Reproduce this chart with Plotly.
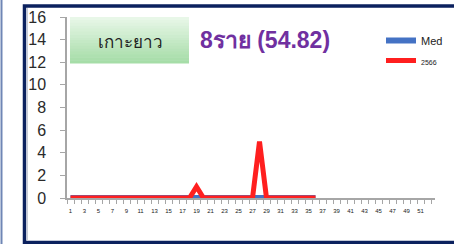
import plotly.graph_objects as go

weeks = list(range(1, 53))
cases_2566 = [0]*18 + [1] + [0]*8 + [5] + [0]*8   # weeks 1..36
med = [0]*36
tick_labels = [str(w) for w in range(1, 53, 2)]
area_name = "เกาะยาว"
summary = "8ราย (54.82)"

W, H = 454, 244
L, R, T, B = 67, 435, 17, 198
def px(x): return (x - L) / (R - L)
def py(y): return (B - y) / (B - T)

fig = go.Figure()
fig.add_trace(go.Scatter(x=weeks[:len(med)], y=med, mode="lines", name="Med",
                         line=dict(color="#4472C4", width=6), legendgroup="a"))
fig.add_trace(go.Scatter(x=weeks[:len(cases_2566)], y=cases_2566, mode="lines",
                         name="<span style='font-size:7px'>2566</span>",
                         line=dict(color="#FF1F1F", width=5), legendgroup="b"))

shapes = []
# outer thin line
shapes.append(dict(type="line", xref="paper", yref="paper", x0=px(1.5), x1=px(1.5), y0=py(0), y1=py(244),
                   line=dict(color="#6F86B5", width=2), layer="above"))
# navy frame
shapes.append(dict(type="rect", xref="paper", yref="paper", x0=px(24.5), x1=px(470), y0=py(6), y1=py(242.5),
                   line=dict(color="#0B215E", width=3.5), layer="above"))
# inner light line
shapes.append(dict(type="line", xref="paper", yref="paper", x0=px(27.5), x1=px(27.5), y0=py(8), y1=py(240.5),
                   line=dict(color="#C8CCD6", width=1), layer="above"))
# green gradient box
x0b, x1b, y0b, y1b = 70, 189, 17, 63
n = 16
c0 = (232, 247, 232); c1 = (166, 221, 168)
for i in range(n):
    t = i / (n - 1)
    c = tuple(int(c0[k] + (c1[k] - c0[k]) * t) for k in range(3))
    ya = y0b + (y1b - y0b) * i / n
    yb = y0b + (y1b - y0b) * (i + 1) / n
    shapes.append(dict(type="rect", xref="paper", yref="paper", x0=px(x0b), x1=px(x1b),
                       y0=py(ya), y1=py(yb + 0.5), line=dict(width=0),
                       fillcolor="rgb(%d,%d,%d)" % c, layer="above"))

annotations = [
    dict(xref="paper", yref="paper", x=px(130), y=py(41), text=area_name, showarrow=False,
         font=dict(size=17, color="#222222", family="Noto Sans, sans-serif"), xanchor="center", yanchor="middle"),
    dict(xref="paper", yref="paper", x=px(198), y=py(40), text="<b>" + summary + "</b>", showarrow=False,
         font=dict(size=23, color="#7030A0", family="Liberation Sans, Arial, sans-serif"),
         xanchor="left", yanchor="middle"),
]

fig.update_layout(
    width=W, height=H, margin=dict(l=L, r=W - R, t=T, b=H - B, autoexpand=False),
    paper_bgcolor="white", plot_bgcolor="white",
    shapes=shapes, annotations=annotations,
    showlegend=True,
    legend=dict(x=px(381), y=py(26), xanchor="left", yanchor="top", bgcolor="rgba(0,0,0,0)",
                font=dict(size=11, color="#222222", family="Liberation Sans, Arial"),
                tracegroupgap=1, itemwidth=30, traceorder="grouped"),
    xaxis=dict(range=[0.5, 0.5 + (R - L) / 7.0], tickmode="array", automargin=False,
               tickvals=list(range(1, 53, 2)), ticktext=tick_labels, ticks="",
               tickfont=dict(size=6, color="#222222", family="Liberation Sans, Arial"),
               ticklabelstandoff=6,
               showline=True, linecolor="#A6A6A6", linewidth=1.5, showgrid=False, zeroline=False,
               minor=dict(tickmode="array", tickvals=[w + 0.5 for w in range(0, 53)],
                          ticks="outside", ticklen=4, tickcolor="#A6A6A6", showgrid=False)),
    yaxis=dict(range=[0, 16], dtick=2, ticks="outside", ticklen=5, tickcolor="#A6A6A6", automargin=False,
               tickfont=dict(size=16, color="#2A2A2A", family="Liberation Sans, Arial"),
               showline=True, linecolor="#A6A6A6", linewidth=1.5, showgrid=False, zeroline=False,
               ticklabelstandoff=11),
)

fig.write_html("out.html", config={"displayModeBar": False},
               post_script="document.body.style.margin='0';document.body.style.overflow='hidden';")
